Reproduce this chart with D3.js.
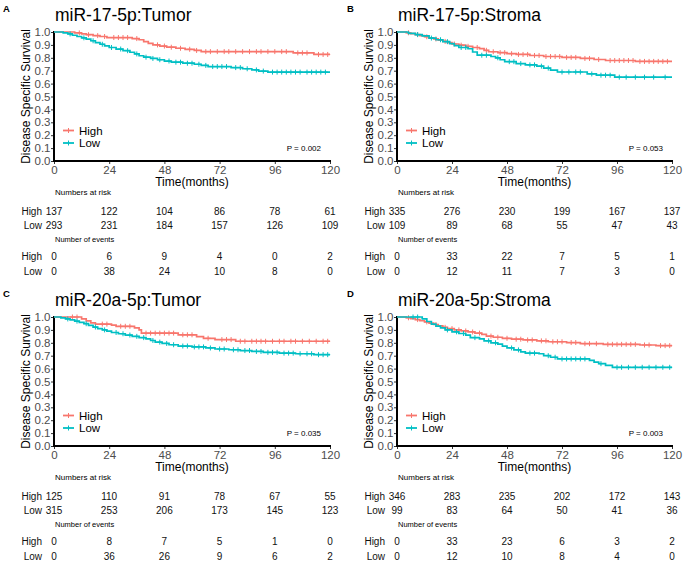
<!DOCTYPE html>
<html>
<head>
<meta charset="utf-8">
<script src="https://cdn.jsdelivr.net/npm/d3@7"></script>
<style>
  html, body { margin: 0; padding: 0; background: #fff; }
  svg { display: block; font-family: "Liberation Sans", Arial, Helvetica, sans-serif; }
</style>
</head>
<body>
<svg id="chart" width="685" height="565"></svg>
<script>
// ---------------- DATA ----------------
const panelLetters = ["A", "B", "C", "D"];
const panelTitles = ["miR-17-5p:Tumor", "miR-17-5p:Stroma", "miR-20a-5p:Tumor", "miR-20a-5p:Stroma"];
const pValues = ["P = 0.002", "P = 0.053", "P = 0.035", "P = 0.003"];
const groupNames = ["High", "Low"];
const timeTicks = [0, 24, 48, 72, 96, 120];
const survTicks = [0, 0.1, 0.2, 0.3, 0.4, 0.5, 0.6, 0.7, 0.8, 0.9, 1.0];

// Panel A: miR-17-5p Tumor
const aHighSteps = [[0,1],[9,0.993],[12,0.986],[14,0.979],[17,0.972],[20,0.965],[23,0.957],[34,0.949],[37,0.94],[39,0.925],[41,0.912],[43,0.9],[46,0.891],[49,0.882],[53,0.874],[57,0.866],[61,0.857],[64,0.848],[104,0.838],[113,0.826]];
const aHighCensor = [11,15,19,22,26,28,30,32,36,45,48,51,55,59,62,66,68,71,74,76,79,82,85,88,90,93,96,99,101,106,108,110,115,117,119];
const aLowSteps = [[0,1],[4,0.993],[6,0.985],[8,0.975],[10,0.965],[12,0.955],[14,0.944],[16,0.932],[18,0.918],[20,0.905],[22,0.892],[24,0.88],[27,0.868],[30,0.855],[33,0.843],[35,0.83],[37,0.816],[39,0.805],[42,0.795],[45,0.785],[48,0.775],[51,0.766],[56,0.758],[61,0.75],[64,0.741],[67,0.732],[77,0.724],[82,0.715],[86,0.706],[89,0.697],[93,0.689]];
const aLowCensor = [7,13,17,21,25,29,32,36,40,43,46,50,53,55,58,60,63,66,69,71,73,75,79,81,84,88,91,95,97,99,101,103,105,107,110,112,114,116,118];
const aRiskHigh = [137,122,104,86,78,61];
const aRiskLow = [293,231,184,157,126,109];
const aEventsHigh = [0,6,9,4,0,2];
const aEventsLow = [0,38,24,10,8,0];

// Panel B: miR-17-5p Stroma
const bHighSteps = [[0,1],[4,0.994],[6,0.987],[8,0.98],[10,0.972],[12,0.963],[14,0.955],[16,0.946],[18,0.937],[20,0.927],[22,0.917],[24,0.907],[27,0.898],[30,0.889],[33,0.88],[36,0.871],[38,0.858],[40,0.847],[44,0.84],[48,0.832],[52,0.826],[58,0.818],[64,0.81],[72,0.803],[80,0.795],[86,0.787],[91,0.779],[104,0.772]];
const bHighCensor = [5,9,13,17,21,25,28,31,35,39,42,45,47,50,53,55,57,60,62,65,67,69,71,74,76,78,82,84,88,93,95,97,99,101,103,106,108,110,112,114,116,118];
const bLowSteps = [[0,1],[5,0.99],[8,0.98],[11,0.97],[14,0.953],[17,0.94],[20,0.925],[23,0.91],[25,0.895],[27,0.88],[31,0.87],[33,0.845],[35,0.82],[41,0.81],[43,0.8],[45,0.785],[47,0.77],[52,0.755],[56,0.745],[61,0.735],[64,0.72],[67,0.705],[70,0.69],[83,0.675],[87,0.665],[95,0.65]];
const bLowCensor = [9,15,19,22,28,30,37,39,44,49,51,54,58,60,63,66,72,75,78,80,85,89,91,93,97,100,104,108,112,117];
const bRiskHigh = [335,276,230,199,167,137];
const bRiskLow = [109,89,68,55,47,43];
const bEventsHigh = [0,33,22,7,5,1];
const bEventsLow = [0,12,11,7,3,0];

// Panel C: miR-20a-5p Tumor
const cHighSteps = [[0,1],[12,0.985],[14,0.97],[16,0.955],[18,0.945],[25,0.937],[27,0.928],[35,0.915],[37,0.9],[38,0.875],[54,0.862],[62,0.848],[65,0.835],[70,0.825],[79,0.812]];
const cHighCensor = [8,10,21,23,29,31,33,40,42,44,46,48,50,52,56,58,60,67,73,75,77,81,83,86,88,90,92,95,98,100,103,105,108,111,114,117,119];
const cLowSteps = [[0,1],[3,0.993],[5,0.985],[7,0.977],[9,0.968],[11,0.958],[13,0.948],[15,0.935],[17,0.922],[19,0.91],[21,0.9],[23,0.89],[25,0.88],[28,0.87],[31,0.86],[34,0.85],[37,0.84],[40,0.83],[42,0.818],[44,0.805],[47,0.795],[50,0.785],[54,0.775],[60,0.768],[66,0.76],[70,0.752],[76,0.746],[81,0.74],[86,0.733],[91,0.726],[98,0.72],[105,0.715],[113,0.708]];
const cLowCensor = [6,10,14,18,22,27,30,33,36,39,43,46,49,52,56,58,61,63,65,68,72,74,78,80,83,85,88,90,93,95,97,100,102,104,107,110,112,115,117,119];
const cRiskHigh = [125,110,91,78,67,55];
const cRiskLow = [315,253,206,173,145,123];
const cEventsHigh = [0,8,7,5,1,0];
const cEventsLow = [0,36,26,9,6,2];

// Panel D: miR-20a-5p Stroma
const dHighSteps = [[0,1],[4,0.994],[6,0.987],[8,0.98],[10,0.971],[12,0.962],[14,0.952],[16,0.942],[18,0.931],[20,0.92],[22,0.91],[25,0.9],[28,0.892],[31,0.884],[34,0.875],[37,0.865],[39,0.852],[42,0.843],[46,0.835],[50,0.828],[55,0.822],[61,0.815],[66,0.808],[74,0.802],[80,0.793],[90,0.788],[106,0.783],[113,0.778]];
const dHighCensor = [5,9,13,17,21,24,27,30,33,36,41,44,48,52,54,57,59,63,65,68,70,72,76,78,82,84,87,92,94,96,98,100,102,104,108,110,115,117,119];
const dLowSteps = [[0,1],[11,0.985],[13,0.965],[15,0.945],[17,0.93],[19,0.915],[21,0.9],[24,0.885],[27,0.872],[30,0.86],[32,0.84],[36,0.83],[38,0.815],[41,0.8],[44,0.79],[46,0.775],[48,0.76],[51,0.745],[54,0.73],[56,0.72],[62,0.715],[64,0.7],[67,0.688],[70,0.675],[84,0.663],[86,0.65],[88,0.638],[91,0.625],[94,0.61]];
const dLowCensor = [7,9,22,26,29,34,40,43,50,53,58,60,66,69,72,74,76,78,80,82,89,96,98,101,104,107,110,113,116,119];
const dRiskHigh = [346,283,235,202,172,143];
const dRiskLow = [99,83,64,50,41,36];
const dEventsHigh = [0,33,23,6,3,2];
const dEventsLow = [0,12,10,8,4,0];

const groupColors = ["#F8766D", "#00BFC4"];

// ---------------- BUILD ----------------
const panels = [
  { steps: [aHighSteps, aLowSteps], censor: [aHighCensor, aLowCensor], risk: [aRiskHigh, aRiskLow], events: [aEventsHigh, aEventsLow] },
  { steps: [bHighSteps, bLowSteps], censor: [bHighCensor, bLowCensor], risk: [bRiskHigh, bRiskLow], events: [bEventsHigh, bEventsLow] },
  { steps: [cHighSteps, cLowSteps], censor: [cHighCensor, cLowCensor], risk: [cRiskHigh, cRiskLow], events: [cEventsHigh, cEventsLow] },
  { steps: [dHighSteps, dLowSteps], censor: [dHighCensor, dLowCensor], risk: [dRiskHigh, dRiskLow], events: [dEventsHigh, dEventsLow] }
];
// layout (pixel geometry only)
const layout = [
  { x0: 54, x1: 330, top: 0, lx: 3 },
  { x0: 397, x1: 672, top: 0, lx: 347 },
  { x0: 54, x1: 330, top: 285, lx: 3 },
  { x0: 397, x1: 672, top: 285, lx: 347 }
];

const svg = d3.select("#chart");
const FONT = '"Liberation Sans", Arial, Helvetica, sans-serif';

function survAt(steps, t) {
  let s = steps[0][1];
  for (const st of steps) { if (st[0] <= t) s = st[1]; else break; }
  return s;
}

panels.forEach((p, i) => {
  const L = layout[i];
  const yTop = L.top + 32, yBot = L.top + 161;
  const x = d3.scaleLinear().domain([0, 120]).range([L.x0, L.x1]);
  const y = d3.scaleLinear().domain([0, 1]).range([yBot, yTop]);
  const g = svg.append("g");

  // panel letter
  g.append("text").attr("x", L.lx).attr("y", L.top + 12)
    .attr("font-size", 9.5).attr("font-weight", "bold").attr("fill", "#000")
    .text(panelLetters[i]);
  // title
  g.append("text").attr("x", L.x0 + 1).attr("y", L.top + 21)
    .attr("font-size", 17.5).attr("fill", "#000").text(panelTitles[i]);

  // y axis
  const ya = g.append("g").attr("transform", `translate(${L.x0},0)`)
    .call(d3.axisLeft(y).tickValues(survTicks).tickFormat(d3.format(".1f")).tickSize(3).tickSizeOuter(0));
  ya.select(".domain").remove();
  ya.selectAll(".tick line").attr("stroke", "#333").attr("stroke-width", 1);
  ya.selectAll(".tick text").attr("font-size", 11.5).attr("fill", "#4D4D4D").attr("font-family", FONT).attr("x", -3.5);

  // x axis
  const xa = g.append("g").attr("transform", `translate(0,${yBot})`)
    .call(d3.axisBottom(x).tickValues(timeTicks).tickSize(3).tickSizeOuter(0));
  xa.select(".domain").remove();
  xa.selectAll(".tick line").attr("stroke", "#333").attr("stroke-width", 1);
  xa.selectAll(".tick text").attr("font-size", 11.5).attr("fill", "#4D4D4D").attr("font-family", FONT).attr("y", 5);

  // axis lines
  g.append("line").attr("x1", L.x0).attr("x2", L.x0).attr("y1", yTop - 1).attr("y2", yBot + 1)
    .attr("stroke", "#000").attr("stroke-width", 2);
  g.append("line").attr("x1", L.x0 - 1).attr("x2", L.x1 + 1).attr("y1", yBot).attr("y2", yBot)
    .attr("stroke", "#000").attr("stroke-width", 2);

  // axis titles
  g.append("text").attr("transform", `translate(${L.x0 - 27},${(yTop + yBot) / 2}) rotate(-90)`)
    .attr("text-anchor", "middle").attr("dominant-baseline", "middle")
    .attr("font-size", 12).attr("fill", "#000").text("Disease Specific Survival");
  g.append("text").attr("x", (L.x0 + L.x1) / 2).attr("y", L.top + 186)
    .attr("text-anchor", "middle").attr("font-size", 12).attr("fill", "#000").text("Time(months)");

  // curves
  const line = d3.line().x(d => x(d[0])).y(d => y(d[1])).curve(d3.curveStepAfter);
  [0, 1].forEach(k => {
    const steps = p.steps[k];
    const pts = steps.concat([[120, steps[steps.length - 1][1]]]);
    g.append("path").attr("d", line(pts)).attr("fill", "none")
      .attr("stroke", groupColors[k]).attr("stroke-width", 1.7);
    const cg = g.append("g").attr("stroke", groupColors[k]).attr("stroke-width", 1);
    p.censor[k].forEach(t => {
      const cx = x(t), cy = y(survAt(steps, t));
      cg.append("line").attr("x1", cx).attr("x2", cx).attr("y1", cy - 2.5).attr("y2", cy + 2.5);
      cg.append("line").attr("x1", cx - 2.5).attr("x2", cx + 2.5).attr("y1", cy).attr("y2", cy);
    });
  });

  // legend
  [0, 1].forEach(k => {
    const ly = L.top + 130.5 + k * 12.5;
    g.append("line").attr("x1", L.x0 + 9).attr("x2", L.x0 + 20).attr("y1", ly).attr("y2", ly)
      .attr("stroke", groupColors[k]).attr("stroke-width", 1.8);
    g.append("line").attr("x1", L.x0 + 14.5).attr("x2", L.x0 + 14.5).attr("y1", ly - 2.5).attr("y2", ly + 2.5)
      .attr("stroke", groupColors[k]).attr("stroke-width", 1);
    g.append("text").attr("x", L.x0 + 25).attr("y", ly + 4)
      .attr("font-size", 11.5).attr("fill", "#000").text(groupNames[k]);
  });

  // p-value
  g.append("text").attr("x", L.x1 - 9).attr("y", L.top + 151)
    .attr("text-anchor", "end").attr("font-size", 8).attr("fill", "#000").text(pValues[i]);

  // tables
  g.append("text").attr("x", L.x0 + 1).attr("y", L.top + 193).attr("dominant-baseline", "middle")
    .attr("font-size", 8).attr("fill", "#000").text("Numbers at risk");
  g.append("text").attr("x", L.x0 + 1).attr("y", L.top + 240).attr("dominant-baseline", "middle")
    .attr("font-size", 7.5).attr("fill", "#000").text("Number of events");
  const rowY = [[212, 226], [257, 272]];
  [p.risk, p.events].forEach((tbl, ti) => {
    [0, 1].forEach(k => {
      const ry = L.top + rowY[ti][k];
      g.append("text").attr("x", L.x0 - 12).attr("y", ry).attr("dominant-baseline", "middle")
        .attr("text-anchor", "end").attr("font-size", 10).attr("fill", "#111").text(groupNames[k]);
      g.selectAll(null).data(tbl[k]).join("text")
        .attr("x", (d, j) => x(timeTicks[j])).attr("y", ry).attr("dominant-baseline", "middle")
        .attr("text-anchor", "middle").attr("font-size", 10).attr("fill", "#111").text(d => d);
    });
  });
});
</script>
</body>
</html>
